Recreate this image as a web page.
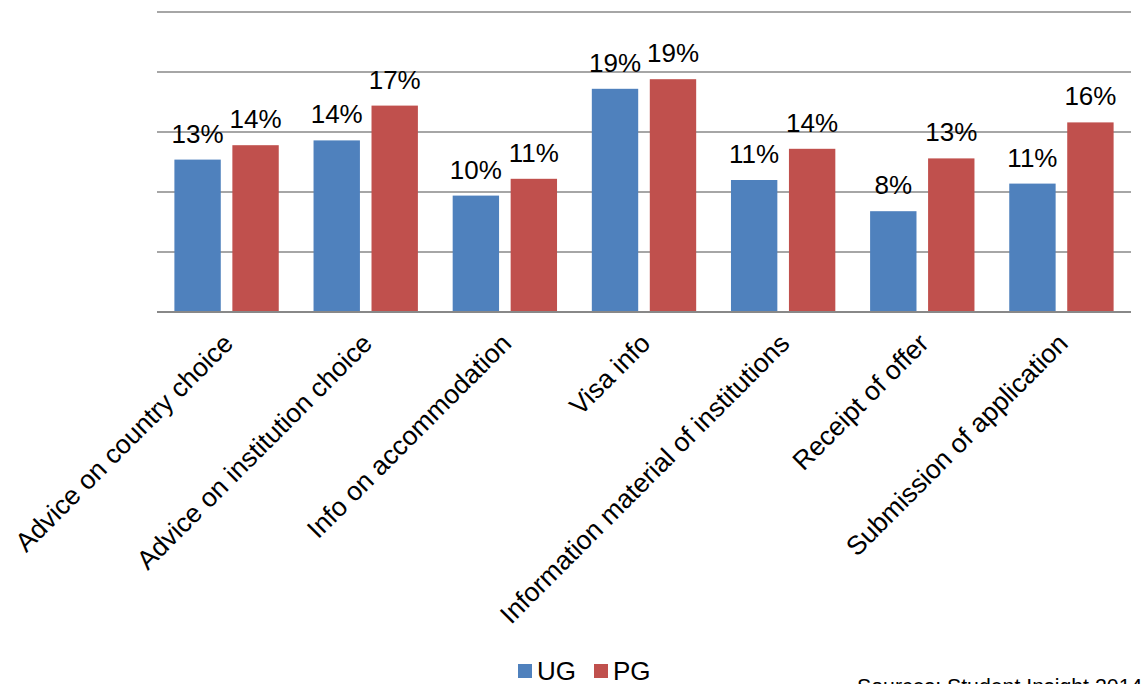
<!DOCTYPE html>
<html>
<head>
<meta charset="utf-8">
<script src="https://cdn.jsdelivr.net/npm/d3@7"></script>
<style>
  html, body { margin: 0; padding: 0; background: #fff; }
  svg { display: block; font-family: "Liberation Sans", Arial, sans-serif; }
</style>
</head>
<body>
<div id="chart"></div>
<script>
// data (percent of respondents)
const categories = [
  "Advice on country choice",
  "Advice on institution choice",
  "Info on accommodation",
  "Visa info",
  "Information material of institutions",
  "Receipt of offer",
  "Submission of application",
];
const seriesNames = ["UG", "PG"];
const ugValues = [12.7, 14.3, 9.7, 18.6, 11.0, 8.4, 10.7];
const pgValues = [13.9, 17.2, 11.1, 19.4, 13.6, 12.8, 15.8];
const yTicks = [0, 5, 10, 15, 20, 25];
const sourceText = "Sources: Student Insight 2014";

const colors = { UG: "#4F81BD", PG: "#C0504D" };

// chart dimensions
const width = 1141;
const height = 684;
const plot = { left: 157, right: 1131, top: 12, bottom: 312 };

// build rows for the grouped bars
const rows = categories.map((c, i) => ({
  category: c,
  UG: ugValues[i],
  PG: pgValues[i],
}));

const svg = d3
  .select("#chart")
  .append("svg")
  .attr("width", width)
  .attr("height", height);

const x = d3
  .scaleBand()
  .domain(categories)
  .range([plot.left, plot.right])
  .padding(0);

const xInner = d3
  .scaleBand()
  .domain(seriesNames)
  .range([0, x.bandwidth()])
  .paddingInner(0.2)
  .paddingOuter(0.3);

const y = d3
  .scaleLinear()
  .domain([0, 25])
  .range([plot.bottom, plot.top]);

// horizontal gridlines (no y labels in the original)
svg
  .append("g")
  .attr("class", "grid")
  .selectAll("line")
  .data(yTicks)
  .enter()
  .append("line")
  .attr("x1", plot.left)
  .attr("x2", plot.right)
  .attr("y1", (d) => y(d))
  .attr("y2", (d) => y(d))
  .attr("stroke", "#888")
  .attr("stroke-width", 1.6);

// bars
const groups = svg
  .append("g")
  .attr("class", "bars")
  .selectAll("g")
  .data(rows)
  .enter()
  .append("g")
  .attr("transform", (d) => `translate(${x(d.category)},0)`);

const cells = groups
  .selectAll("g")
  .data((d) => seriesNames.map((s) => ({ key: s, value: d[s] })))
  .enter()
  .append("g");

cells
  .append("rect")
  .attr("x", (d) => xInner(d.key))
  .attr("width", xInner.bandwidth())
  .attr("y", (d) => y(d.value))
  .attr("height", (d) => y(0) - y(d.value))
  .attr("fill", (d) => colors[d.key]);

// value labels above each bar
cells
  .append("text")
  .attr("x", (d) => xInner(d.key) + xInner.bandwidth() / 2)
  .attr("y", (d) => y(d.value) - 17)
  .attr("text-anchor", "middle")
  .attr("font-size", 26)
  .attr("fill", "#000")
  .text((d) => Math.round(d.value) + "%");

// baseline on top of bars
svg
  .append("line")
  .attr("x1", plot.left)
  .attr("x2", plot.right)
  .attr("y1", y(0))
  .attr("y2", y(0))
  .attr("stroke", "#888")
  .attr("stroke-width", 2);

// rotated category labels
svg
  .append("g")
  .attr("class", "x-labels")
  .selectAll("text")
  .data(categories)
  .enter()
  .append("text")
  .attr("transform", (d) => {
    const cx = x(d) + x.bandwidth() / 2;
    return `translate(${cx + 8},${plot.bottom + 33}) rotate(-45)`;
  })
  .attr("text-anchor", "end")
  .attr("font-size", 26.5)
  .attr("fill", "#000")
  .text((d) => d);

// legend
const legend = svg
  .append("g")
  .attr("class", "legend")
  .attr("transform", "translate(518,664)");

const legendX = { UG: 0, PG: 76 };

const legendItem = legend
  .selectAll("g")
  .data(seriesNames)
  .enter()
  .append("g")
  .attr("transform", (d) => `translate(${legendX[d]},0)`);

legendItem
  .append("rect")
  .attr("width", 14)
  .attr("height", 14)
  .attr("fill", (d) => colors[d]);

legendItem
  .append("text")
  .attr("x", 19)
  .attr("y", 16)
  .attr("font-size", 26)
  .attr("fill", "#000")
  .text((d) => d);

// source note, cut off by the bottom edge like the original
svg
  .append("text")
  .attr("x", 857)
  .attr("y", 694)
  .attr("font-size", 21.3)
  .attr("fill", "#000")
  .text(sourceText);
</script>
</body>
</html>
